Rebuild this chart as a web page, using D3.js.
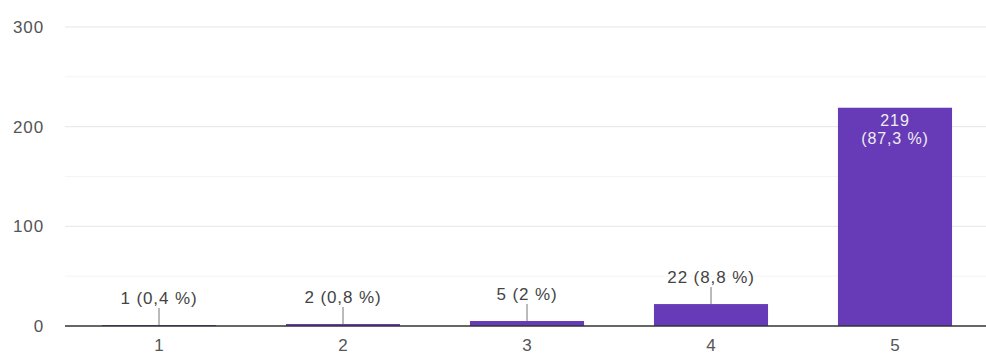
<!DOCTYPE html>
<html><head><meta charset="utf-8">
<script src="https://cdn.jsdelivr.net/npm/d3@7"></script>
<style>body{margin:0;background:#fff}svg{display:block;font-family:"Liberation Sans",Arial,sans-serif}</style>
</head><body><svg id="c" width="986" height="356"></svg>
<script>
const categories = ["1","2","3","4","5"];
const counts = [1, 2, 5, 22, 219];
const percents = ["0,4 %","0,8 %","2 %","8,8 %","87,3 %"];
const yTicks = [0, 100, 200, 300];
const yMinor = [50, 150, 250];

const FS = 17, LS = "0.9px";
const svg = d3.select("#c");
const x = d3.scaleBand().domain(categories).range([67, 987]).paddingInner(0.38).paddingOuter(0.19);
const y = d3.scaleLinear().domain([0, 300]).range([326, 27]);
const gx0 = 65, gx1 = 986;

svg.selectAll("line.minor").data(yMinor).enter().append("line")
  .attr("x1", gx0).attr("x2", gx1).attr("y1", d => y(d)).attr("y2", d => y(d))
  .attr("stroke", "#f4f4f4").attr("stroke-width", 1);
svg.selectAll("line.major").data(yTicks.filter(d => d > 0)).enter().append("line")
  .attr("x1", gx0).attr("x2", gx1).attr("y1", d => y(d)).attr("y2", d => y(d))
  .attr("stroke", "#e6e6e6").attr("stroke-width", 1);

const yAxis = d3.axisLeft(y).tickValues(yTicks).tickSize(0).tickPadding(0);
const ga = svg.append("g").attr("transform", "translate(44,0)").call(yAxis);
ga.select(".domain").remove();
ga.selectAll("text").attr("font-size", FS).attr("fill", "#555").attr("letter-spacing", LS)
  .attr("font-family", "Liberation Sans, Arial, sans-serif");

svg.selectAll("rect.bar").data(counts).enter().append("rect")
  .attr("x", (d, i) => x(categories[i])).attr("width", x.bandwidth())
  .attr("y", d => y(d)).attr("height", d => y(0) - y(d))
  .attr("fill", "#673ab7");

svg.append("line").attr("x1", gx0).attr("x2", gx1).attr("y1", y(0)).attr("y2", y(0))
  .attr("stroke", "#333").attr("stroke-width", 1.5);

const xAxis = d3.axisBottom(x).tickSize(0).tickPadding(0);
const gb = svg.append("g").attr("transform", "translate(0,339)").call(xAxis);
gb.select(".domain").remove();
gb.selectAll("text").attr("font-size", FS).attr("fill", "#555")
  .attr("font-family", "Liberation Sans, Arial, sans-serif");

counts.forEach((v, i) => {
  const cx = x(categories[i]) + x.bandwidth() / 2;
  if (v > 100) {
    svg.append("text").attr("x", cx).attr("y", y(v) + 18).attr("text-anchor", "middle")
      .attr("font-size", 16).attr("fill", "#eee").attr("letter-spacing", LS).text(v);
    svg.append("text").attr("x", cx).attr("y", y(v) + 36).attr("text-anchor", "middle")
      .attr("font-size", 16).attr("fill", "#eee").attr("letter-spacing", LS).text("(" + percents[i] + ")");
  } else {
    const base = y(v) - 21;
    svg.append("text").attr("x", cx).attr("y", base).attr("text-anchor", "middle")
      .attr("font-size", FS).attr("fill", "#444").attr("letter-spacing", LS)
      .text(v + " (" + percents[i] + ")");
    svg.append("line").attr("x1", cx).attr("x2", cx).attr("y1", base + 4).attr("y2", y(v))
      .attr("stroke", "#777").attr("stroke-width", 1);
  }
});
</script></body></html>
